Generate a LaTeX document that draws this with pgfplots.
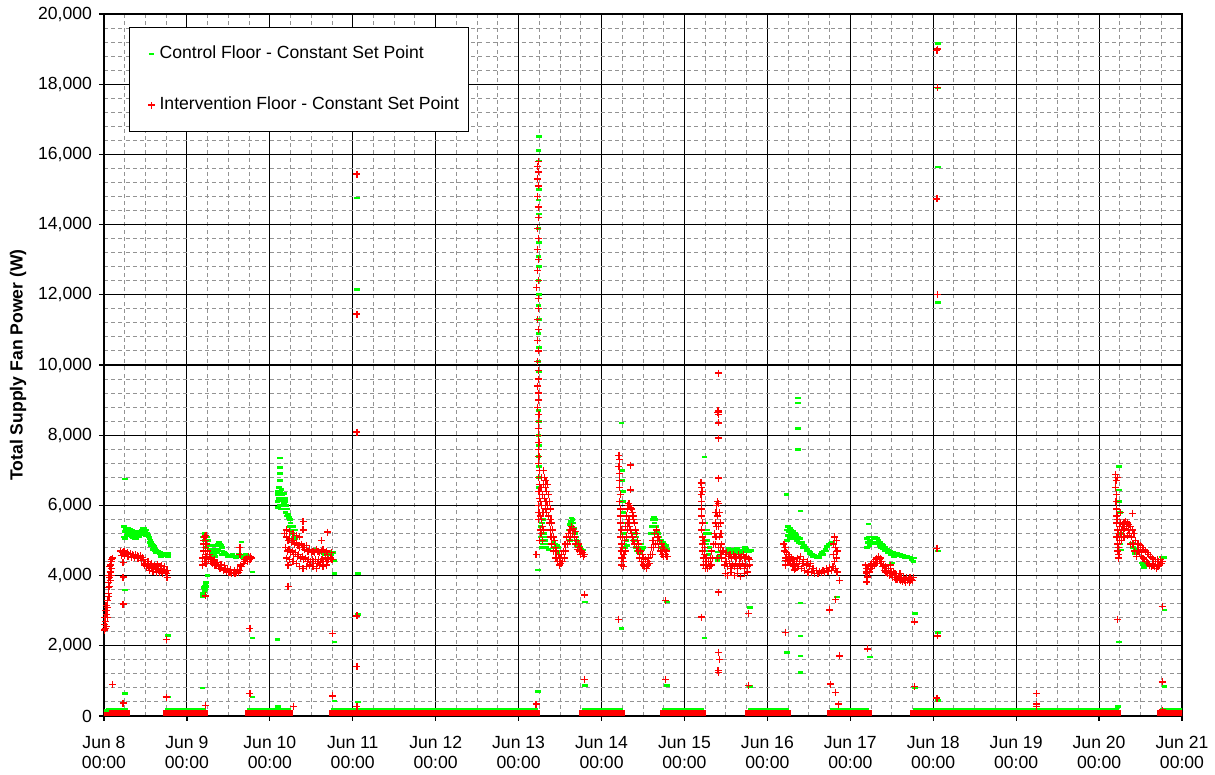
\documentclass[border=0pt]{standalone}
\usepackage{fontspec}
\setmainfont{Liberation Sans}
\usepackage{pgfplots}
\pgfplotsset{compat=1.18}
\definecolor{cgreen}{RGB}{0,255,0}
\definecolor{cred}{RGB}{255,0,0}
\begin{document}
\begin{tikzpicture}
\path[use as bounding box] (-52pt,-29.5pt) rectangle (555.5pt,358pt);
\begin{axis}[
  at={(0pt,0pt)}, anchor=south west,
  scale only axis, width=539pt, height=351pt,
  xmin=0, xmax=13, ymin=0, ymax=20000,
  xtick={0,1,2,3,4,5,6,7,8,9,10,11,12,13},
  xticklabels={{Jun 8\\00:00},{Jun 9\\00:00},{Jun 10\\00:00},{Jun 11\\00:00},{Jun 12\\00:00},{Jun 13\\00:00},{Jun 14\\00:00},{Jun 15\\00:00},{Jun 16\\00:00},{Jun 17\\00:00},{Jun 18\\00:00},{Jun 19\\00:00},{Jun 20\\00:00},{Jun 21\\00:00}},
  minor xtick={0.25,0.5,0.75,1.25,1.5,1.75,2.25,2.5,2.75,3.25,3.5,3.75,4.25,4.5,4.75,5.25,5.5,5.75,6.25,6.5,6.75,7.25,7.5,7.75,8.25,8.5,8.75,9.25,9.5,9.75,10.25,10.5,10.75,11.25,11.5,11.75,12.25,12.5,12.75},
  ytick={0,2000,4000,6000,8000,10000,12000,14000,16000,18000,20000},
  minor ytick={400,800,1200,1600,2400,2800,3200,3600,4400,4800,5200,5600,6400,6800,7200,7600,8400,8800,9200,9600,10400,10800,11200,11600,12400,12800,13200,13600,14400,14800,15200,15600,16400,16800,17200,17600,18400,18800,19200,19600},
  scaled y ticks=false,
  /pgf/number format/fixed,
  /pgf/number format/1000 sep={,},
  /pgf/number format/assume math mode=true,
  tick label style={font=\fontsize{8.8}{10.3}\selectfont},
  xticklabel style={align=center, yshift=-4pt},
  grid=both,
  major grid style={line width=0.55pt, draw=black},
  minor grid style={line width=0.5pt, draw=gray!85, dash pattern=on 2pt off 1.6pt},
  axis line style={line width=0.6pt, draw=black},
  tick align=outside, tick pos=left,
  major tick length=2.5pt, minor tick length=0pt,
  tick style={black, line width=0.6pt},
  ylabel={\bfseries Total Supply Fan Power (W)},
  ylabel style={at={(axis description cs:-0.0798,0.5)}, anchor=center, font=\fontsize{8.8}{10.3}\selectfont},
  legend style={at={(axis description cs:0.0232,0.9815)}, anchor=north west, draw=black, line width=0.6pt, fill=white,
    font=\fontsize{8.8}{10.3}\selectfont, inner xsep=4pt, inner ysep=8.4pt, row sep=16pt, column sep=1pt,
    nodes={inner sep=0.8pt, text height=6.2pt, text depth=1.8pt}},
  legend cell align=left,
  unbounded coords=jump,
]
% ---- legend entries ----
\addlegendimage{legend image code/.code={\path[draw=none] (0pt,-1pt) rectangle (8.75pt,1pt); \draw[cgreen, draw=cgreen, line width=1.4pt] (5.6pt,0pt) -- (8.4pt,0pt);}}
\addlegendentry{Control Floor - Constant Set Point}
\addlegendimage{legend image code/.code={\path[draw=none] (0pt,-1pt) rectangle (8.75pt,1pt); \draw[cred, draw=cred, line width=0.8pt] (5.2pt,0pt) -- (8.8pt,0pt) (7pt,-1.8pt) -- (7pt,1.8pt);}}
\addlegendentry{Intervention Floor - Constant Set Point}
% ---- baselines (off periods) ----
\addplot[cgreen, line width=0.8pt, line cap=rect, forget plot] coordinates {
(0.03,195)(0.28,195)(0.29,nan)(0.75,195)(1.22,195)(1.3,nan)(1.74,195)(2.24,195)(2.3,nan)(2.75,195)(5.22,195)(5.3,nan)
(5.77,195)(6.25,195)(6.3,nan)(6.74,195)(7.22,195)(7.3,nan)(7.77,195)(8.25,195)(8.3,nan)(8.76,195)(9.22,195)(9.3,nan)
(9.76,195)(12.23,195)(12.3,nan)(12.74,195)(13.0,195)};
% ---- Control floor ----
\addplot[cgreen, only marks, mark=-, mark size=1.4pt, mark options={line width=1.4pt, draw=cgreen}, forget plot] coordinates {
(0.24,5100)(0.24,5400)(0.25,5250)(0.26,5350)(0.27,5300)(0.28,5250)(0.29,5350)(0.30,5300)(0.31,5250)(0.32,5320)(0.33,5200)(0.34,5280)(0.35,5200)(0.36,5250)(0.37,5150)(0.38,5200)(0.39,5150)(0.40,5180)(0.41,5120)(0.42,5200)(0.43,5250)(0.44,5220)(0.45,5300)(0.46,5300)(0.47,5350)(0.48,5300)(0.49,5350)(0.50,5280)(0.51,5300)(0.52,5200)(0.53,5150)(0.54,5100)(0.55,5050)(0.56,5000)(0.57,4950)(0.58,4900)(0.59,4850)(0.60,4820)(0.61,4780)(0.62,4750)(0.63,4720)(0.64,4700)(0.65,4680)(0.66,4660)(0.67,4640)(0.68,4650)(0.70,4620)(0.72,4640)(0.74,4620)(0.76,4630)(0.78,4620)
(0.25,5050)(0.27,5150)(0.29,5200)(0.31,5150)(0.33,5100)(0.35,5080)(0.37,5050)(0.39,5050)(0.43,5100)(0.45,5180)(0.47,5200)(0.49,5200)(0.51,5150)(0.55,4950)(0.57,4850)(0.59,4750)(0.61,4700)(0.63,4650)(0.69,4550)(0.73,4560)(0.77,4540)
(0.25,6750)(0.25,3590)(0.25,650)(0.77,2300)(0.77,540)(0.03,150)
(1.19,3400)(1.195,3500)(1.20,3650)(1.205,3450)(1.21,3550)(1.215,3700)(1.22,3600)(1.225,3750)(1.23,3800)(1.235,3700)(1.25,4000)(1.19,800)
(1.19,5100)(1.20,4900)(1.21,5200)(1.22,5000)(1.23,4800)(1.24,5100)(1.25,4900)(1.26,5000)(1.27,4850)(1.28,4750)(1.29,4850)(1.30,4700)(1.31,4650)(1.32,4750)(1.33,4600)(1.34,4700)(1.35,4750)(1.36,4850)(1.37,4900)(1.38,4950)(1.39,4950)(1.40,4900)(1.41,4850)(1.42,4800)(1.43,4700)(1.44,4650)(1.45,4650)(1.46,4620)(1.47,4600)(1.49,4550)(1.51,4580)(1.53,4550)(1.55,4600)(1.57,4550)(1.59,4500)(1.61,4550)(1.63,4600)(1.65,4550)(1.67,4500)(1.69,4550)(1.71,4600)(1.73,4550)(1.75,4500)(1.77,4520)
(1.34,4550)(1.36,4650)(1.38,4750)(1.40,4700)(1.42,4600)
(1.66,4960)(1.79,4500)(1.79,4100)(1.79,2220)(1.79,540)
(2.12,7350)(2.12,7090)(2.12,6920)(2.12,6720)
(2.09,6400)(2.09,6100)(2.10,6300)(2.10,5950)(2.11,6500)(2.11,6200)(2.12,6400)(2.12,6000)(2.13,6300)(2.13,5900)(2.14,6450)(2.14,6150)(2.15,6300)(2.15,6000)(2.16,6200)(2.16,5900)(2.17,6350)(2.17,6050)(2.18,6200)(2.18,5900)(2.19,6100)(2.19,5800)(2.20,6000)(2.20,5700)(2.21,5900)(2.22,5750)(2.23,5650)(2.24,5600)
(2.24,5400)(2.25,5500)(2.26,5300)(2.27,5200)(2.28,5400)(2.29,5100)(2.30,5300)(2.31,5050)
(2.44,4500)(2.50,4700)(2.55,4750)(2.60,4670)(2.62,4650)(2.66,4600)(2.70,4700)(2.74,4600)(2.77,4650)(2.78,4440)(2.78,4050)
(2.09,2170)(2.10,260)(2.78,2110)(2.78,430)
(3.05,14760)(3.05,12140)(3.06,4050)(3.06,2900)(3.06,400)
(5.245,16500)(5.24,16100)(5.245,15810)(5.24,15500)(5.245,15000)(5.24,14700)(5.245,14300)(5.24,13900)(5.245,13500)(5.24,13100)(5.245,12800)(5.24,12400)(5.245,12000)(5.24,11700)(5.245,11300)(5.24,10900)(5.245,10500)(5.24,10100)(5.245,9800)(5.24,9400)(5.245,9000)(5.24,8700)(5.245,8400)(5.24,8000)(5.245,7700)(5.24,7400)(5.245,7100)(5.24,6800)(5.245,6500)
(5.26,5700)(5.265,5400)(5.27,5100)(5.275,4800)(5.28,5500)(5.285,5000)(5.29,5300)(5.295,4900)(5.30,5600)(5.31,5200)(5.32,5000)(5.33,4800)(5.34,5100)(5.35,4900)(5.36,4750)(5.42,4950)(5.43,4800)(5.44,4900)(5.45,4700)(5.46,4850)(5.47,4650)(5.48,4800)(5.49,4700)
(5.60,5100)(5.61,5300)(5.62,5450)(5.63,5550)(5.64,5640)(5.65,5600)(5.66,5500)(5.67,5350)(5.68,5200)(5.69,5100)(5.70,5000)(5.71,4950)(5.72,4900)(5.73,4850)(5.62,5000)(5.66,5100)(5.70,4850)(5.74,4800)(5.76,4750)(5.78,4730)
(5.235,4160)(5.80,3250)(5.80,880)(5.235,690)
(6.24,8350)(6.24,2500)
(6.25,7000)(6.255,6700)(6.26,6400)(6.26,6100)(6.265,5800)(6.27,5500)(6.27,5200)(6.275,4900)(6.28,5100)(6.29,4800)(6.30,5000)(6.31,4850)
(6.38,5300)(6.39,5000)(6.40,5200)(6.41,4800)(6.42,5100)(6.43,4700)(6.44,4900)(6.45,4650)(6.46,4800)(6.47,4700)(6.48,4900)(6.49,4750)(6.50,4800)
(6.60,5200)(6.61,5400)(6.62,5600)(6.63,5670)(6.64,5500)(6.65,5600)(6.66,5400)(6.67,5250)(6.68,5200)
(6.70,5100)(6.71,4900)(6.72,5000)(6.73,4800)(6.74,4950)(6.75,4750)(6.76,4900)(6.77,4800)(6.78,4850)(6.79,4750)
(6.79,3250)(6.79,880)
(7.24,7380)(7.24,2220)
(7.25,5500)(7.26,5200)(7.26,4900)(7.27,5300)(7.27,4700)(7.28,5000)(7.29,4600)(7.30,4800)(7.31,4500)(7.30,5200)
(7.40,4670)(7.40,4440)(7.41,4550)
(7.50,4700)(7.52,4650)(7.54,4720)(7.56,4660)(7.58,4750)(7.60,4680)(7.62,4720)(7.64,4650)(7.66,4700)(7.68,4640)(7.70,4720)(7.72,4670)(7.74,4750)(7.76,4700)(7.78,4680)(7.80,4720)(7.53,4780)(7.63,4780)(7.73,4800)
(7.79,3100)(7.79,850)
(8.23,6320)(8.37,9060)(8.37,8920)(8.37,8200)(8.37,7600)(8.40,5840)
(8.24,5300)(8.24,5000)(8.25,5400)(8.25,5150)(8.26,5250)(8.27,5350)(8.27,5050)(8.28,5200)(8.29,5300)(8.30,5100)(8.31,5250)(8.32,5150)(8.33,5200)(8.34,5050)(8.35,5150)(8.36,5000)(8.37,5100)(8.38,4950)(8.39,5050)(8.40,4900)
(8.42,4950)(8.44,4850)(8.46,4800)(8.48,4750)(8.50,4700)(8.52,4650)(8.54,4600)(8.56,4580)(8.58,4550)(8.60,4560)(8.62,4530)(8.64,4600)(8.66,4650)(8.68,4700)(8.70,4760)(8.72,4820)(8.74,4880)(8.76,4930)(8.78,4960)
(8.43,4800)(8.47,4700)(8.51,4620)(8.55,4530)(8.59,4500)(8.63,4520)(8.67,4600)(8.71,4700)
(8.84,3390)(8.40,3220)(8.40,2280)(8.40,1710)(8.40,1250)(8.24,1820)
(9.22,5470)
(9.20,4800)(9.20,5050)(9.21,4950)(9.22,5100)(9.23,4850)(9.24,5000)(9.25,4900)(9.26,5100)(9.27,4950)(9.28,5050)(9.29,4900)(9.30,5080)(9.31,4950)(9.32,5050)(9.33,4900)(9.34,5000)(9.35,4850)(9.36,4950)(9.37,4800)(9.38,4900)(9.39,4780)(9.40,4850)(9.42,4800)(9.44,4750)(9.46,4720)(9.48,4700)(9.50,4650)(9.52,4650)(9.54,4600)(9.56,4620)(9.58,4580)(9.60,4600)(9.62,4550)(9.64,4570)(9.66,4520)(9.68,4550)(9.70,4500)(9.72,4520)(9.74,4460)(9.76,4400)(9.77,4500)
(9.41,4700)(9.45,4650)(9.49,4600)(9.50,4360)(9.53,4550)
(9.78,2930)(9.24,1680)(9.78,800)
(10.055,19170)(10.055,19000)(10.055,17890)(10.055,15640)(10.055,11770)(10.055,4700)(10.055,2390)(10.055,450)
(12.24,7100)
(12.24,6440)(12.245,6100)(12.25,5800)(12.25,5500)(12.255,5200)(12.26,4900)(12.265,4730)
(12.40,4930)(12.41,4800)(12.42,4700)(12.43,4640)(12.44,4750)
(12.52,4360)(12.53,4300)(12.54,4240)(12.56,4300)(12.58,4350)
(12.76,4530)(12.77,4500)(12.78,4520)(12.79,4500)
(12.24,2110)(12.79,3020)(12.79,830)(12.23,260)
};
% ---- red baseline ----
\addplot[cred, line width=3pt, line cap=rect, forget plot] coordinates {
(0.03,85)(0.28,85)(0.29,nan)(0.75,85)(1.22,85)(1.3,nan)(1.74,85)(2.24,85)(2.3,nan)(2.75,85)(5.22,85)(5.3,nan)
(5.77,85)(6.25,85)(6.3,nan)(6.74,85)(7.22,85)(7.3,nan)(7.77,85)(8.25,85)(8.3,nan)(8.76,85)(9.22,85)(9.3,nan)
(9.76,85)(12.23,85)(12.3,nan)(12.74,85)(13.0,85)};
% ---- Intervention floor ----
\addplot[cred, only marks, mark=+, mark size=1.75pt, mark options={line width=0.6pt, draw=cred}, forget plot] coordinates {
(0.005,2600)(0.010,2450)(0.012,2800)(0.018,3000)(0.020,2700)(0.025,3150)(0.030,2550)(0.035,2900)(0.040,3300)(0.045,3100)(0.050,3500)(0.055,3800)(0.060,3400)(0.065,3700)(0.070,3950)(0.075,4100)(0.080,4300)(0.085,4450)(0.090,4200)(0.095,4400)(0.100,4500)(0.060,4000)(0.050,3650)(0.040,2800)(0.030,3000)(0.070,4250)(0.085,4000)(0.075,3850)(0.015,2500)
(0.100,900)(0.230,370)(0.230,4370)(0.230,3960)(0.230,3190)
(0.20,4700)(0.22,4650)(0.24,4700)(0.26,4620)(0.28,4650)(0.30,4600)(0.32,4620)(0.34,4600)(0.36,4580)(0.38,4600)(0.40,4570)(0.42,4550)(0.44,4560)(0.46,4520)(0.48,4450)(0.50,4350)(0.52,4300)(0.54,4250)(0.56,4280)(0.58,4200)(0.60,4230)(0.62,4180)(0.64,4250)(0.66,4150)(0.68,4200)(0.70,4120)(0.72,4180)(0.74,4100)(0.76,4150)
(0.21,4580)(0.25,4560)(0.29,4540)(0.33,4520)(0.37,4520)(0.41,4480)(0.45,4420)(0.49,4300)(0.51,4250)(0.53,4400)(0.55,4150)(0.57,4350)(0.59,4120)(0.61,4300)(0.63,4100)(0.65,4330)(0.67,4080)(0.69,4280)(0.71,4050)(0.73,4250)(0.75,4050)(0.76,3950)
(0.75,2170)(0.75,540)
(1.19,4300)(1.19,4500)(1.20,4700)(1.20,4900)(1.21,5100)(1.21,4400)(1.22,4600)(1.22,4800)(1.22,5000)(1.23,4350)(1.24,4550)(1.24,4900)(1.25,4700)(1.26,4450)(1.27,4600)(1.28,4500)(1.29,4400)(1.30,4450)(1.31,4350)(1.32,4420)(1.33,4300)(1.34,4350)(1.35,4280)(1.36,4320)(1.38,4250)(1.40,4200)(1.42,4230)(1.44,4150)(1.46,4180)(1.48,4120)(1.50,4100)(1.52,4080)(1.54,4050)(1.56,4080)(1.58,4050)(1.60,4100)(1.62,4080)(1.64,4150)(1.66,4250)(1.68,4350)(1.70,4450)(1.72,4500)(1.74,4550)(1.76,4450)(1.78,4500)
(1.33,4450)(1.37,4380)(1.41,4320)(1.45,4280)(1.49,4200)(1.53,4180)(1.57,4150)(1.61,4180)(1.65,4300)(1.69,4400)(1.73,4400)(1.77,4550)(1.64,4790)(1.64,4590)(1.20,5000)(1.23,5150)
(1.22,3420)(1.22,300)(1.76,2500)(1.76,650)
(2.20,5100)(2.22,5000)(2.24,5050)(2.26,4950)(2.28,5000)(2.30,4900)(2.32,4950)(2.34,4850)(2.36,4800)(2.38,4900)(2.40,4800)(2.42,4750)(2.44,4850)(2.46,4700)(2.48,4750)(2.50,4650)(2.52,4700)(2.54,4650)(2.56,4750)(2.58,4700)(2.60,4650)(2.62,4700)(2.64,4750)(2.66,4650)(2.68,4700)(2.70,4600)
(2.19,4800)(2.21,4700)(2.23,4750)(2.25,4650)(2.27,4700)(2.29,4600)(2.31,4650)(2.33,4550)(2.35,4600)(2.37,4500)(2.39,4550)(2.41,4450)(2.43,4500)(2.45,4400)(2.47,4450)(2.49,4400)(2.51,4450)(2.53,4400)(2.55,4450)(2.57,4350)(2.59,4450)(2.61,4400)(2.63,4450)(2.65,4400)(2.67,4500)(2.69,4400)(2.71,4450)
(2.20,4500)(2.24,4450)(2.28,4400)(2.32,4350)(2.36,4250)(2.40,4200)(2.44,4250)(2.48,4300)(2.52,4250)(2.56,4200)(2.60,4300)(2.64,4250)(2.68,4300)
(2.18,5200)(2.20,5300)(2.24,5250)(2.28,5200)(2.32,5150)(2.36,5100)(2.40,5530)(2.40,5300)(2.70,5240)(2.62,5000)(2.73,4500)(2.75,4450)(2.74,4650)
(2.22,4300)(2.22,3700)(2.29,280)(2.76,2360)(2.76,570)
(3.05,15440)(3.05,11450)(3.05,8090)(3.05,2850)(3.05,1420)(3.05,260)
(5.235,15800)(5.225,15650)(5.240,15500)(5.230,15300)(5.235,15100)(5.225,14800)(5.235,14500)(5.240,14200)(5.230,13900)(5.235,13600)(5.225,13300)(5.240,13000)(5.230,12700)(5.235,12400)(5.220,12200)(5.235,11900)(5.240,11600)(5.230,11300)(5.235,11000)(5.225,10700)(5.240,10400)(5.230,10100)(5.235,9850)(5.240,9600)(5.230,9400)(5.235,9200)(5.240,9000)(5.230,8800)(5.245,8600)(5.240,8400)(5.235,8200)(5.240,8000)(5.245,7800)(5.235,7600)(5.245,7400)(5.240,7200)(5.250,7000)(5.240,6800)(5.250,6600)(5.245,6400)(5.250,6200)(5.240,6000)(5.245,5800)(5.240,5600)
(5.255,5000)(5.26,5300)(5.26,5700)(5.265,6100)(5.27,6500)(5.27,5200)(5.275,5600)(5.28,6000)(5.28,6800)(5.285,5400)(5.29,6300)(5.29,5000)(5.295,5800)(5.30,6600)(5.30,7000)(5.30,5300)
(5.31,6800)(5.31,6200)(5.32,6500)(5.32,5900)(5.33,6700)(5.33,6100)(5.34,6400)(5.34,5800)(5.35,6600)(5.35,6000)(5.36,6300)(5.36,5700)(5.37,6100)(5.37,5500)
(5.38,5900)(5.38,5300)(5.39,5600)(5.39,5100)(5.40,5500)(5.40,4900)(5.41,5300)(5.42,5100)(5.42,4700)(5.43,5000)(5.44,4800)(5.44,4500)(5.45,4700)(5.46,4500)(5.47,4400)
(5.48,4600)(5.49,4300)(5.50,4500)(5.51,4350)(5.52,4600)(5.53,4400)(5.54,4700)(5.55,4500)
(5.56,4900)(5.57,4700)(5.58,5100)(5.59,4900)(5.60,5200)(5.61,5000)(5.62,5300)(5.63,5100)(5.64,5400)(5.65,5200)(5.66,5350)
(5.67,5100)(5.68,5250)(5.69,4900)(5.70,5000)(5.71,4750)(5.72,4900)(5.73,4700)(5.74,4800)(5.75,4600)(5.76,4700)(5.77,4650)(5.78,4550)(5.79,4600)
(5.21,4610)(5.79,3450)(5.79,1050)(5.21,340)
(6.21,7430)(6.22,7300)(6.21,7100)(6.22,6900)(6.215,6700)(6.22,6500)(6.225,6300)(6.22,6100)(6.23,5900)(6.225,5700)(6.23,5500)(6.235,5300)(6.23,5100)(6.24,4900)(6.235,4700)(6.24,4500)(6.245,4300)(6.25,4500)(6.25,4800)(6.255,5100)(6.26,4400)(6.265,4250)(6.27,4600)
(6.28,5000)(6.29,5400)(6.29,4700)(6.30,5700)(6.30,5100)(6.31,5900)(6.31,5300)(6.32,6000)(6.32,5500)(6.33,6060)(6.33,5600)(6.34,6000)(6.34,5400)(6.35,5950)(6.35,5300)(6.36,5900)(6.36,5200)(6.37,5800)(6.37,5100)(6.38,5700)(6.38,5000)(6.39,5600)(6.40,5500)(6.40,4900)(6.41,5300)(6.42,5200)(6.42,4800)(6.43,5000)
(6.44,4700)(6.45,4900)(6.46,4500)(6.47,4700)(6.48,4400)(6.49,4600)(6.50,4300)(6.51,4500)(6.52,4250)(6.53,4450)(6.54,4200)(6.55,4400)(6.56,4300)(6.57,4500)(6.58,4350)(6.59,4600)
(6.60,4800)(6.61,4600)(6.62,5000)(6.63,4800)(6.64,5200)(6.65,4900)(6.66,5300)(6.67,5000)(6.68,5100)
(6.69,4800)(6.70,5000)(6.71,4700)(6.72,4900)(6.73,4600)(6.74,4800)(6.75,4550)(6.76,4750)(6.77,4600)(6.78,4700)(6.79,4550)
(6.35,7150)(6.35,6440)(6.20,2760)(6.77,3280)(6.77,1030)
(7.20,6640)(7.21,6500)(7.20,6300)(7.21,6100)(7.205,5900)(7.21,5700)(7.215,5500)(7.21,5300)(7.22,5100)(7.215,4900)(7.22,4700)(7.225,4500)(7.23,4300)(7.22,6400)(7.235,5000)(7.24,4800)(7.245,4600)(7.25,4400)(7.25,4200)
(7.26,4500)(7.27,4300)(7.28,4200)(7.29,4400)(7.30,4250)(7.31,4500)(7.32,4300)(7.33,4700)(7.34,4500)(7.35,4900)
(7.36,5200)(7.37,5500)(7.38,5800)(7.39,6000)(7.40,6100)(7.41,6050)(7.40,5700)(7.41,5400)(7.42,5800)(7.42,5100)(7.43,5500)(7.43,4800)(7.44,5200)(7.44,4600)(7.45,4900)(7.45,4500)(7.46,4700)(7.39,5400)(7.38,5100)(7.37,4900)(7.41,4800)(7.40,4500)
(7.47,4700)(7.49,4600)(7.51,4650)(7.53,4550)(7.55,4600)(7.57,4500)(7.59,4600)(7.61,4550)(7.63,4500)(7.65,4600)(7.67,4500)(7.69,4550)(7.71,4600)(7.73,4500)(7.75,4550)(7.77,4500)(7.78,4450)
(7.48,4300)(7.50,4400)(7.52,4250)(7.54,4350)(7.56,4200)(7.58,4300)(7.60,4250)(7.62,4350)(7.64,4200)(7.66,4300)(7.68,4250)(7.70,4350)(7.72,4200)(7.74,4300)(7.76,4250)(7.78,4300)
(7.49,4050)(7.52,4000)(7.56,4080)(7.60,4000)(7.64,4050)(7.68,3980)(7.72,4050)(7.76,4100)
(7.41,9770)(7.405,8710)(7.41,8680)(7.415,8650)(7.40,8650)(7.41,8600)(7.41,8350)(7.41,7920)(7.41,6780)(7.41,3530)(7.41,1820)(7.42,1600)(7.41,1250)(7.405,1300)(7.21,2820)(7.77,2930)(7.77,880)
(8.20,4900)(8.21,4700)(8.22,4800)(8.22,4500)(8.23,4650)(8.24,4400)(8.25,4600)(8.26,4450)(8.27,4550)(8.28,4350)(8.29,4500)(8.30,4300)(8.31,4450)(8.32,4250)(8.33,4400)(8.34,4200)(8.35,4350)(8.37,4250)(8.39,4400)(8.41,4200)(8.43,4350)(8.45,4150)(8.47,4300)(8.49,4100)(8.51,4250)(8.53,4100)(8.55,4200)(8.57,4050)(8.59,4150)(8.61,4050)(8.63,4120)(8.65,4080)(8.67,4150)(8.69,4100)(8.71,4200)(8.73,4120)(8.75,4230)(8.77,4150)(8.79,4250)(8.80,4600)(8.80,4900)(8.81,4400)(8.81,5100)(8.82,4800)(8.82,4200)(8.83,5000)(8.83,4500)(8.84,4700)(8.84,4100)
(8.22,4440)(8.22,4300)(8.33,4160)(8.36,4500)(8.40,4550)(8.44,4450)(8.48,4400)(8.52,4350)
(8.87,3870)(8.82,3330)(8.75,3020)(8.22,2390)(8.87,1710)(8.76,910)(8.82,680)(8.86,340)
(9.18,4300)(9.19,4100)(9.20,4200)(9.21,3960)(9.22,4250)(9.23,4100)(9.24,4300)(9.25,4200)(9.26,4350)(9.27,4250)(9.28,4400)(9.29,4300)(9.30,4450)(9.31,4350)(9.32,4500)(9.33,4400)(9.34,4530)(9.35,4450)(9.36,4500)(9.37,4350)(9.38,4400)(9.39,4250)(9.40,4300)(9.41,4150)(9.42,4250)(9.43,4100)(9.44,4200)(9.45,4050)(9.46,4150)(9.47,4000)(9.48,4200)(9.49,4050)(9.50,4100)(9.51,3950)(9.52,4100)(9.53,3950)(9.54,4050)(9.55,3900)(9.56,4000)(9.57,3880)(9.58,3980)(9.59,3900)(9.60,4050)(9.61,3850)(9.62,3950)(9.63,3820)(9.64,3950)(9.65,3850)(9.66,3900)(9.67,3800)(9.68,3950)(9.69,3850)(9.70,3900)(9.71,3800)(9.72,3950)(9.73,3850)(9.74,3900)(9.75,3850)(9.76,3950)
(9.20,4070)(9.20,3820)(9.48,4300)
(9.77,2680)(9.21,1910)(9.77,830)
(10.05,19000)(10.045,18950)(10.05,17900)(10.045,14730)(10.05,12000)(10.045,4780)(10.05,2280)(10.045,510)
(11.25,650)(11.25,340)(11.25,260)
(12.20,6870)(12.205,6700)(12.20,6500)(12.21,6300)(12.205,6100)(12.21,5900)(12.215,5700)(12.21,5500)(12.22,5300)(12.215,5100)(12.22,4900)(12.225,4700)(12.23,4500)(12.22,6800)(12.225,5600)(12.23,5200)(12.235,4800)(12.24,4600)(12.245,5000)(12.25,5400)(12.255,5800)(12.26,5500)(12.265,5200)(12.27,5000)(12.275,5300)
(12.28,5450)(12.29,5300)(12.30,5500)(12.31,5350)(12.32,5530)(12.33,5400)(12.34,5500)(12.35,5300)(12.36,5450)(12.37,5200)(12.38,5400)(12.39,5100)(12.40,5300)(12.41,4900)(12.42,5200)(12.43,4700)(12.44,5000)(12.45,4550)(12.46,4900)(12.47,4700)(12.30,5100)(12.34,5150)(12.38,4900)(12.40,5780)
(12.48,4900)(12.49,4650)(12.50,4850)(12.51,4550)(12.52,4800)(12.53,4500)(12.54,4750)(12.55,4450)(12.56,4700)(12.57,4400)(12.58,4650)(12.59,4350)(12.60,4600)(12.61,4300)(12.62,4550)(12.63,4250)(12.64,4500)(12.65,4300)(12.66,4450)(12.67,4250)(12.68,4400)(12.69,4200)(12.70,4450)(12.71,4250)(12.72,4400)(12.73,4300)(12.74,4450)(12.75,4350)(12.76,4400)
(12.22,2760)(12.76,3130)(12.76,970)(12.76,170)
};
\end{axis}
\end{tikzpicture}
\end{document}
